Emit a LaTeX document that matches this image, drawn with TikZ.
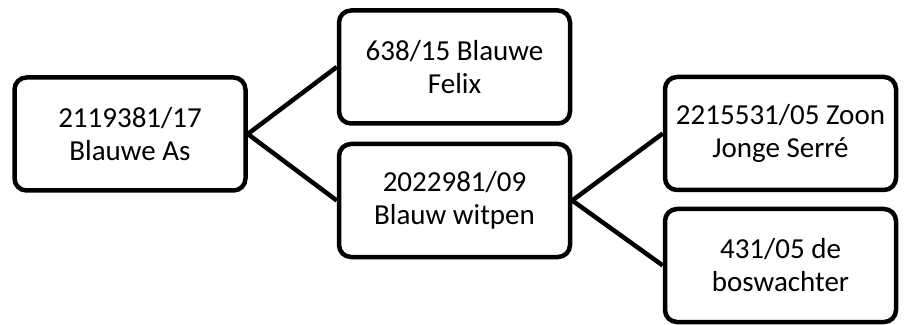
\documentclass[tikz,border=0pt]{standalone}
\usepackage{fontspec}
\setmainfont{Carlito}
\usetikzlibrary{positioning}

\tikzset{
  dog/.style={draw=black,line width=4.5pt,rounded corners=12pt,fill=white,
    minimum width=231pt,minimum height=113pt,align=center,inner sep=2pt,
    font=\fontsize{29}{33}\selectfont},
  link/.style={line width=4.5pt}
}

\begin{document}
\begin{tikzpicture}[x=1pt,y=1pt]
\useasboundingbox (0,0) rectangle (904,324);
% the dogs
\node[dog] (as) at (130,190) {2119381/17\\Blauwe As};
\node[dog] (felix) at (454.5,257) {638/15 Blauwe\\Felix};
\node[dog] (witpen) at (454.5,123.5) {2022981/09\\Blauw witpen};
\node[dog] (zoon) at (780.5,190.5) {2215531/05 Zoon\\Jonge Serr\'e};
\node[dog] (bos) at (780.5,58.5) {431/05 de\\boswachter};
% the lines between them
\draw[link] (as.east) -- (felix.west);
\draw[link] (as.east) -- (witpen.west);
\draw[link] (witpen.east) -- (zoon.west);
\draw[link] (witpen.east) -- (bos.west);
\end{tikzpicture}
\end{document}
